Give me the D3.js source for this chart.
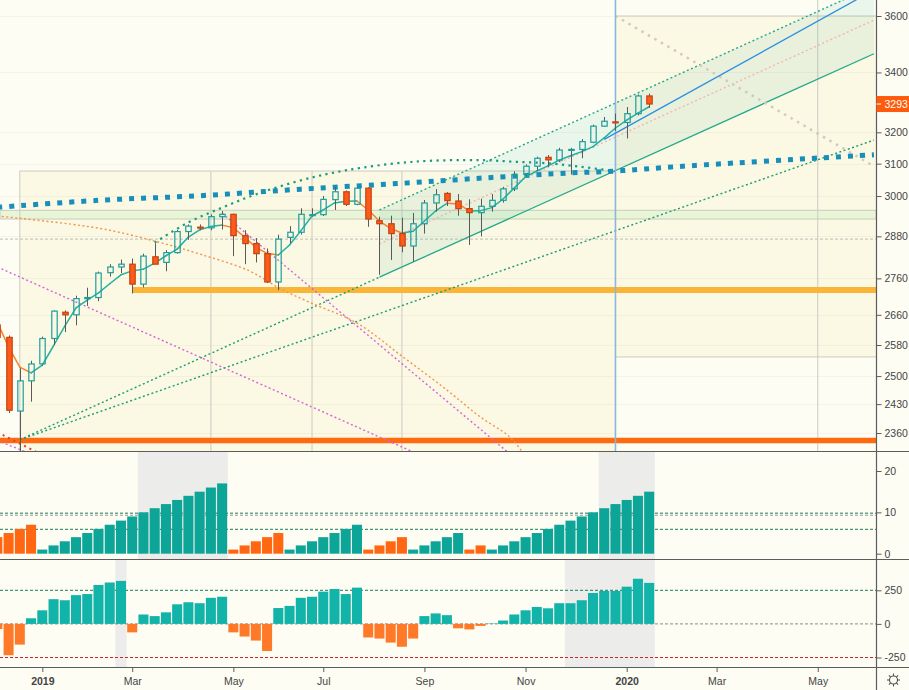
<!DOCTYPE html>
<html>
<head>
<meta charset="utf-8">
<script src="https://cdn.jsdelivr.net/npm/d3@7"></script>
<style>
  html, body { margin: 0; padding: 0; background: #fdfdf4; }
  svg { display: block; }
  text { font-family: "Liberation Sans", Arial, sans-serif; }
</style>
</head>
<body>
<div id="chart"></div>
<script>
// Weekly bars, Dec 2018 - Jan 2020
var dates = ["2018-12-10","2018-12-17","2018-12-24","2018-12-31","2019-01-07","2019-01-14","2019-01-21","2019-01-28","2019-02-04","2019-02-11",
  "2019-02-18","2019-02-25","2019-03-04","2019-03-11","2019-03-18","2019-03-25","2019-04-01","2019-04-08","2019-04-15","2019-04-22",
  "2019-04-29","2019-05-06","2019-05-13","2019-05-20","2019-05-27","2019-06-03","2019-06-10","2019-06-17","2019-06-24","2019-07-01",
  "2019-07-08","2019-07-15","2019-07-22","2019-07-29","2019-08-05","2019-08-12","2019-08-19","2019-08-26","2019-09-02","2019-09-09",
  "2019-09-16","2019-09-23","2019-09-30","2019-10-07","2019-10-14","2019-10-21","2019-10-28","2019-11-04","2019-11-11","2019-11-18",
  "2019-11-25","2019-12-02","2019-12-09","2019-12-16","2019-12-23","2019-12-30","2020-01-06","2020-01-13","2020-01-20"];

var opens = [2633, 2600, 2413, 2488, 2531, 2597, 2667, 2660, 2704, 2707,
  2776, 2792, 2800, 2744, 2821, 2805, 2833, 2894, 2907, 2905,
  2938, 2945, 2882, 2859, 2830, 2750, 2877, 2892, 2942, 2944,
  2989, 3013, 2975, 3024, 2926, 2917, 2888, 2852, 2917, 2979,
  3008, 2985, 2962, 2950, 2969, 2987, 3022, 3066, 3092, 3120,
  3111, 3142, 3145, 3168, 3220, 3234, 3232, 3261, 3320];
var highs = [2685, 2605, 2520, 2539, 2602, 2672, 2672, 2712, 2734, 2779,
  2800, 2813, 2816, 2830, 2860, 2840, 2899, 2915, 2915, 2945,
  2955, 2947, 2898, 2875, 2845, 2885, 2910, 2963, 2963, 3000,
  3027, 3017, 3027, 3027, 2938, 2941, 2935, 2949, 2988, 3021,
  3012, 3006, 2990, 2992, 3006, 3028, 3076, 3098, 3122, 3127,
  3150, 3150, 3178, 3225, 3250, 3261, 3283, 3325, 3328];
var lows = [2583, 2408, 2316, 2436, 2527, 2580, 2614, 2632, 2684, 2697,
  2765, 2775, 2718, 2735, 2800, 2780, 2830, 2870, 2898, 2898,
  2900, 2823, 2800, 2805, 2747, 2727, 2860, 2885, 2938, 2940,
  2958, 2970, 2972, 2908, 2770, 2812, 2834, 2807, 2888, 2953,
  2970, 2941, 2855, 2880, 2953, 2980, 3015, 3060, 3078, 3090,
  3105, 3066, 3117, 3165, 3218, 3205, 3180, 3255, 3280];
var closes = [2600, 2415, 2488, 2531, 2597, 2670, 2660, 2704, 2707, 2775,
  2792, 2800, 2744, 2823, 2800, 2833, 2894, 2910, 2905, 2938,
  2945, 2882, 2859, 2830, 2750, 2872, 2892, 2945, 2944, 2990,
  3013, 2975, 3024, 2931, 2917, 2888, 2852, 2917, 2979, 3004,
  2986, 2962, 2950, 2969, 2987, 3022, 3066, 3092, 3117, 3112,
  3143, 3145, 3170, 3220, 3236, 3232, 3261, 3320, 3293];
var maValues = [2640, 2575, 2523, 2508, 2528, 2578, 2630, 2679, 2700, 2720,
  2745, 2770, 2781, 2786, 2803, 2824, 2843, 2878, 2899, 2909,
  2913, 2905, 2878, 2848, 2831, 2826, 2855, 2896, 2940, 2958,
  2979, 2984, 2985, 2958, 2925, 2903, 2890, 2895, 2925, 2955,
  2978, 2976, 2955, 2956, 2965, 2991, 3025, 3059, 3077, 3093,
  3111, 3125, 3138, 3154, 3182, 3214, 3240, 3263, 3284];

// indicator 1: up / down streak count (negative = down streak)
var streak = [-4, -5, -6, -7, 1, 2, 3, 4, 5, 6,
  7, 8, 9, 10, 11, 12, 13, 14, 15, 16,
  17, -1, -2, -3, -4, -5, 1, 2, 3, 4,
  5, 6, 7, -1, -2, -3, -4, 1, 2, 3,
  4, 5, -1, -2, 1, 2, 3, 4, 5, 6,
  7, 8, 9, 10, 11, 12, 13, 14, 15];
// indicator 2: momentum histogram
var momentum = [-38, -233, -154, 42, 101, 184, 176, 214, 222, 290,
  308, 320, -63, 70, 58, 86, 146, 161, 154, 194,
  202, -63, -94, -124, -202, 118, 134, 194, 202, 240,
  260, 222, 270, -101, -109, -139, -170, -109, 58, 78,
  65, -33, -41, -15, 3, 25, 70, 101, 126, 116,
  154, 154, 176, 230, 245, 245, 277, 336, 305];

var priceTicks = [3600, 3400, 3200, 3100, 3000, 2880, 2760, 2660, 2580, 2500, 2430, 2360];
var streakTicks = [0, 10, 20];
var momentumTicks = [-250, 0, 250];
var timeTicks = ["2019-01-07","2019-03-04","2019-05-06","2019-07-01","2019-09-02","2019-11-04","2020-01-06","2020-03-02","2020-05-04"];
var timeLabels = ["2019","Mar","May","Jul","Sep","Nov","2020","Mar","May"];
var lastPrice = 3293;

var streakShade = [["2019-03-11","2019-04-29"], ["2019-12-23","2020-01-20"]];
var momentumShade = [["2019-02-25","2019-02-25"], ["2019-12-02","2020-01-20"]];
var streakLevels = [9.8, 5.9];
var streakMid = [9.3];

// drawings on the price pane  [date, price]
var box1 = [["2018-12-24", 3077], ["2019-12-30", 2280]];
var box1Lines = ["2019-04-22", "2019-06-24", "2019-08-19"];
var box2 = [["2019-12-30", 3600], ["2020-07-06", 2549]];
var box2Line = "2020-05-04";
var greenZone = [2957, 2931];
var dashLevel = 2872;
var supportLevel = ["2019-03-04", 2728];
var lowLevel = 2342;
var markDate = "2019-12-30";
var channelLow = [["2018-12-24", 2344], ["2020-06-08", 3465]];
var channelStart = "2019-08-05";
var channelUp = [["2019-08-05", 2958], ["2020-06-08", 3711]];
var channelMid = [["2019-08-05", 2858], ["2020-06-08", 3585]];
var fanLine = [["2018-12-24", 2344], ["2020-06-08", 3175]];
var blueTrend = [["2019-12-23", 3177], ["2020-06-08", 3696]];
var grayDiag = [["2019-12-30", 3600], ["2020-06-08", 3092]];
var pinkLine1 = [["2018-12-10", 2792], ["2019-08-26", 2315]];
var pinkLine2 = [["2019-04-29", 2948], ["2019-10-28", 2302]];
var pinkLine3 = [["2018-12-10", 2342], ["2019-01-07", 2300]];
var redDots = [["2018-12-10", 2362], ["2019-01-07", 2308]];
var orangeArc = [["2018-12-10", 2940], ["2019-02-11", 2904], ["2019-03-19", 2865], ["2019-04-15", 2829],
  ["2019-05-16", 2781], ["2019-06-04", 2732], ["2019-06-24", 2691], ["2019-07-22", 2638], ["2019-08-19", 2551],
  ["2019-09-16", 2465], ["2019-10-06", 2401], ["2019-10-25", 2351], ["2019-11-02", 2315]];
var tealArc = [["2019-03-18", 2862], ["2019-04-08", 2921], ["2019-04-29", 2965], ["2019-05-20", 3005],
  ["2019-06-17", 3048], ["2019-07-15", 3079], ["2019-08-26", 3106], ["2019-10-07", 3111], ["2019-10-28", 3106],
  ["2019-11-18", 3101], ["2019-12-09", 3090], ["2019-12-30", 3076]];
var blueDots = [["2018-12-10", 2966], ["2019-02-11", 2987], ["2019-04-15", 3001], ["2019-06-17", 3021],
  ["2019-08-19", 3039], ["2019-10-14", 3057], ["2019-12-02", 3071], ["2019-12-30", 3077], ["2020-02-10", 3092],
  ["2020-06-08", 3128]];

// Layout
var svgWidth = 909, svgHeight = 690;
var plotRight = 876;
var mainBottom = 451, p2Top = 452, p2Bottom = 558, p3Top = 560, p3Bottom = 667, axisTop = 668;

var parse = d3.utcParse("%Y-%m-%d");
var teal = "#1d9e9c", red = "#ff5a1a";

var x = d3.scaleUtc()
  .domain([parse("2019-01-07"), parse("2020-01-06")])
  .range([42.3, 626.7]);
var step = x(parse("2019-01-14")) - x(parse("2019-01-07"));
var y = d3.scaleLog().domain([2360, 3600]).range([433, 16]);
var yStreak = d3.scaleLinear().domain([0, 20]).range([553.7, 471]);
var yMom = d3.scaleLinear().domain([-250, 250]).range([657.5, 590.3]);

var bars = dates.map(function(d, i) {
  return {date: parse(d), open: opens[i], high: highs[i], low: lows[i], close: closes[i],
    ma: maValues[i], streak: streak[i], mom: momentum[i]};
});

var svg = d3.select("#chart").append("svg")
  .attr("width", svgWidth)
  .attr("height", svgHeight);

svg.append("rect").attr("width", svgWidth).attr("height", svgHeight).attr("fill", "#fdfdf4");

var defs = svg.append("defs");
function clip(id, top, bottom) {
  defs.append("clipPath").attr("id", id).append("rect")
    .attr("x", 0).attr("y", top).attr("width", plotRight).attr("height", bottom - top);
}
clip("clipMain", 0, mainBottom);
clip("clipP2", p2Top, p2Bottom + 1);
clip("clipP3", p3Top, p3Bottom + 1);

var main = svg.append("g").attr("clip-path", "url(#clipMain)");
var pt = function(p) { return [x(parse(p[0])), y(p[1])]; };

// range boxes
function box(b, fill) {
  var a = pt(b[0]), c = pt(b[1]);
  main.append("rect").attr("x", a[0]).attr("y", a[1])
    .attr("width", c[0] - a[0]).attr("height", c[1] - a[1])
    .attr("fill", fill);
  return [a, c];
}
var b1 = box(box1, "#fbf8e4");
var b2 = box(box2, "#fbf8e4");

// faint grid
main.selectAll(".grid").data(priceTicks).enter().append("line")
  .attr("x1", 0).attr("x2", plotRight)
  .attr("y1", d => Math.round(y(d)) + 0.5).attr("y2", d => Math.round(y(d)) + 0.5)
  .attr("stroke", "#000").attr("stroke-opacity", 0.035);

// green zone
main.append("rect").attr("x", 0).attr("width", plotRight)
  .attr("y", y(greenZone[0])).attr("height", y(greenZone[1]) - y(greenZone[0]))
  .attr("fill", "#e8f5d6").attr("stroke", "#c9cbbd").attr("stroke-width", 1);

main.append("line").attr("x1", 0).attr("x2", plotRight)
  .attr("y1", y(dashLevel)).attr("y2", y(dashLevel))
  .attr("stroke", "#bdbdb5").attr("stroke-dasharray", "3,2");

// box borders
var borders = "#cbcbc0";
main.append("line").attr("x1", b1[0][0]).attr("x2", b1[1][0]).attr("y1", b1[0][1]).attr("y2", b1[0][1]).attr("stroke", borders);
main.append("line").attr("x1", b1[0][0]).attr("x2", b1[0][0]).attr("y1", b1[0][1]).attr("y2", mainBottom).attr("stroke", borders);
main.selectAll(".b1line").data(box1Lines).enter().append("line")
  .attr("x1", d => x(parse(d))).attr("x2", d => x(parse(d)))
  .attr("y1", b1[0][1]).attr("y2", mainBottom).attr("stroke", borders);
main.append("line").attr("x1", b2[0][0]).attr("x2", plotRight).attr("y1", b2[0][1]).attr("y2", b2[0][1]).attr("stroke", borders);
main.append("line").attr("x1", b2[0][0]).attr("x2", plotRight).attr("y1", b2[1][1]).attr("y2", b2[1][1]).attr("stroke", borders);
main.append("line").attr("x1", x(parse(box2Line))).attr("x2", x(parse(box2Line)))
  .attr("y1", 0).attr("y2", mainBottom).attr("stroke", borders);

// channel fill
var lowLine = function(d) { // lower channel line at a date
  var a = pt(channelLow[0]), c = pt(channelLow[1]);
  var xx = x(d);
  return [xx, a[1] + (c[1] - a[1]) * (xx - a[0]) / (c[0] - a[0])];
};
var cs = lowLine(parse(channelStart)), ce = pt(channelLow[1]);
var us = pt(channelUp[0]), ue = pt(channelUp[1]);
main.append("path")
  .attr("d", d3.line()([cs, ce, ue, us]) + "Z")
  .attr("fill", "#14a08c").attr("fill-opacity", 0.075);

// thick levels
var sup = pt(supportLevel);
main.append("line").attr("x1", sup[0]).attr("x2", plotRight).attr("y1", sup[1]).attr("y2", sup[1])
  .attr("stroke", "#fab436").attr("stroke-width", 6);
main.append("line").attr("x1", 0).attr("x2", plotRight).attr("y1", y(lowLevel)).attr("y2", y(lowLevel))
  .attr("stroke", "#ff6a10").attr("stroke-width", 5.5);

// straight drawings
function seg(p, color, width, dash) {
  var a = pt(p[0]), c = pt(p[1]);
  var l = main.append("line").attr("x1", a[0]).attr("y1", a[1]).attr("x2", c[0]).attr("y2", c[1])
    .attr("stroke", color).attr("stroke-width", width);
  if (dash) l.attr("stroke-dasharray", dash);
  return l;
}
seg(pinkLine1, "#d564d8", 1.4, "2,2.5");
seg(pinkLine2, "#d564d8", 1.4, "2,2.5");
seg(pinkLine3, "#d564d8", 1.4, "2,2.5");
seg(redDots, "#e0402a", 2, "2,4");
seg(fanLine, "#1a9e72", 1.4, "2,2.5");
seg([channelLow[0], [channelStart, y.invert(cs[1])]], "#1a9e72", 1.4, "2,2.5");
main.append("line").attr("x1", cs[0]).attr("y1", cs[1]).attr("x2", ce[0]).attr("y2", ce[1])
  .attr("stroke", "#22a88a").attr("stroke-width", 1.3);
seg(channelUp, "#22a88a", 1.4, "2,2.5");
seg(channelMid, "#f4b4b0", 1.4, "2,2.5");
seg(grayDiag, "#d2cbbd", 2.5, "2.5,5");

// curved drawings
var curve = d3.line().x(d => x(parse(d[0]))).y(d => y(d[1])).curve(d3.curveCatmullRom);
main.append("path").attr("d", curve(orangeArc)).attr("fill", "none")
  .attr("stroke", "#f5924a").attr("stroke-width", 1.4).attr("stroke-dasharray", "2,2.5");
main.append("path").attr("d", curve(tealArc)).attr("fill", "none")
  .attr("stroke", "#1a9b7b").attr("stroke-width", 2.2).attr("stroke-dasharray", "2.2,4.4");
main.append("path").attr("d", curve(blueDots)).attr("fill", "none")
  .attr("stroke", "#168fba").attr("stroke-width", 5).attr("stroke-dasharray", "5,7");

// marker line
main.append("line").attr("x1", x(parse(markDate))).attr("x2", x(parse(markDate)))
  .attr("y1", 0).attr("y2", mainBottom).attr("stroke", "#8db6df").attr("stroke-width", 1.6);

seg(blueTrend, "#2b8fe0", 1.3);

// moving average, coloured by direction
main.selectAll(".ma").data(bars.slice(1)).enter().append("line")
  .attr("x1", (d, i) => x(bars[i].date)).attr("y1", (d, i) => y(bars[i].ma))
  .attr("x2", d => x(d.date)).attr("y2", d => y(d.ma))
  .attr("stroke", (d, i) => d.ma >= bars[i].ma ? "#22b0a2" : "#f5822f")
  .attr("stroke-width", 1.5).attr("stroke-linecap", "round");

// candles
var bodyW = 5.4;
var candles = main.selectAll(".candle").data(bars).enter().append("g");
candles.each(function(d) {
  var g = d3.select(this);
  var cx = Math.round(x(d.date)) + 0.5;
  var up = d.close >= d.open;
  var top = y(Math.max(d.open, d.close)), bot = y(Math.min(d.open, d.close));
  if (bot - top < 1) { bot = top + 1; }
  g.append("line").attr("x1", cx).attr("x2", cx).attr("y1", y(d.high)).attr("y2", top)
    .attr("stroke", "#5a5a5a");
  g.append("line").attr("x1", cx).attr("x2", cx).attr("y1", bot).attr("y2", y(d.low))
    .attr("stroke", "#5a5a5a");
  g.append("rect").attr("x", cx - bodyW / 2).attr("y", top)
    .attr("width", bodyW).attr("height", bot - top)
    .attr("fill", up ? "none" : red)
    .attr("stroke", up ? teal : "#c2440f").attr("stroke-width", 1.2);
});

// indicator panes
var p2 = svg.append("g").attr("clip-path", "url(#clipP2)");
var p3 = svg.append("g").attr("clip-path", "url(#clipP3)");

function shades(g, list, top, bottom) {
  g.selectAll(".shade").data(list).enter().append("rect")
    .attr("x", d => x(parse(d[0])) - step / 2)
    .attr("width", d => x(parse(d[1])) - x(parse(d[0])) + step)
    .attr("y", top).attr("height", bottom - top + 1)
    .attr("fill", "#ecedea");
}
shades(p2, streakShade, p2Top, p2Bottom);
shades(p3, momentumShade, p3Top, p3Bottom);

function level(g, yy, color) {
  g.append("line").attr("x1", 0).attr("x2", plotRight).attr("y1", yy).attr("y2", yy)
    .attr("stroke", color).attr("stroke-width", 1).attr("stroke-dasharray", "3,2");
}
streakLevels.forEach(v => level(p2, yStreak(v), "#1d7a5c"));
streakMid.forEach(v => level(p2, yStreak(v), "#9a9a9a"));
level(p3, yMom(250), "#1d7a5c");
level(p3, yMom(0), "#8a8a8a");
level(p3, yMom(-250), "#c4262b");

p2.selectAll(".bar").data(bars).enter().append("rect")
  .attr("x", d => x(d.date) - step / 2 + 0.6)
  .attr("width", step - 1.2)
  .attr("y", d => yStreak(Math.abs(d.streak)))
  .attr("height", d => yStreak(0) - yStreak(Math.abs(d.streak)))
  .attr("fill", d => d.streak > 0 ? "#0ca597" : "#ff6712");

p3.selectAll(".bar").data(bars).enter().append("rect")
  .attr("x", d => x(d.date) - step / 2 + 0.6)
  .attr("width", step - 1.2)
  .attr("y", d => yMom(Math.max(0, d.mom)))
  .attr("height", d => Math.abs(yMom(d.mom) - yMom(0)))
  .attr("fill", d => d.mom > 0 ? "#12b3a8" : "#ff7a28");

// separators and axis line
[mainBottom + 0.5, p3Top - 0.5, axisTop - 0.5].forEach(function(yy) {
  svg.append("line").attr("x1", 0).attr("x2", svgWidth).attr("y1", yy).attr("y2", yy)
    .attr("stroke", "#5c5c5c").attr("stroke-width", 1.2);
});
svg.append("line").attr("x1", plotRight + 0.5).attr("x2", plotRight + 0.5)
  .attr("y1", 0).attr("y2", svgHeight).attr("stroke", "#5c5c5c").attr("stroke-width", 1.2);

// right axes (plain hyphen for negatives, as on the chart)
var plain = d => String(d);
function rightAxis(scale, ticks) {
  var g = svg.append("g").attr("transform", `translate(${plotRight + 0.5},0)`)
    .call(d3.axisRight(scale).tickValues(ticks).tickSize(5).tickPadding(3).tickFormat(plain));
  g.select(".domain").remove();
  g.selectAll("line").attr("stroke", "#5c5c5c");
  g.selectAll("text").attr("fill", "#444").style("font-size", "10.5px")
    .style("font-family", "'Liberation Sans', Arial, sans-serif");
  return g;
}
rightAxis(y, priceTicks);
rightAxis(yStreak, streakTicks);
rightAxis(yMom, momentumTicks);

// last price tag
var ly = y(lastPrice);
svg.append("rect").attr("x", plotRight + 0.5).attr("y", ly - 8).attr("width", svgWidth - plotRight)
  .attr("height", 16).attr("fill", "#ff5b0c");
svg.append("line").attr("x1", plotRight + 0.5).attr("x2", plotRight + 5).attr("y1", ly).attr("y2", ly)
  .attr("stroke", "#fff");
svg.append("text").attr("x", plotRight + 8.5).attr("y", ly + 4)
  .attr("fill", "#fff").style("font-size", "10.5px").text(plain(lastPrice));

// time axis
var xAxis = svg.append("g").attr("transform", `translate(0,${axisTop})`)
  .call(d3.axisBottom(x).tickValues(timeTicks.map(parse)).tickSize(4).tickPadding(6)
    .tickFormat((d, i) => timeLabels[i]));
xAxis.select(".domain").remove();
xAxis.selectAll("line").attr("stroke", "#5c5c5c");
xAxis.selectAll("text").attr("fill", "#444").style("font-size", "10.5px")
  .style("font-family", "'Liberation Sans', Arial, sans-serif")
  .style("font-weight", (d, i) => /^\d{4}$/.test(timeLabels[i]) ? "bold" : "normal");

// settings glyph
var gear = svg.append("g").attr("transform", "translate(893.5,680)");
gear.append("circle").attr("r", 4).attr("fill", "none").attr("stroke", "#555").attr("stroke-width", 1.1);
d3.range(8).forEach(function(k) {
  var a = k * Math.PI / 4;
  gear.append("line").attr("x1", Math.cos(a) * 4).attr("y1", Math.sin(a) * 4)
    .attr("x2", Math.cos(a) * 6.5).attr("y2", Math.sin(a) * 6.5)
    .attr("stroke", "#555").attr("stroke-width", 1.1);
});
</script>
</body>
</html>
